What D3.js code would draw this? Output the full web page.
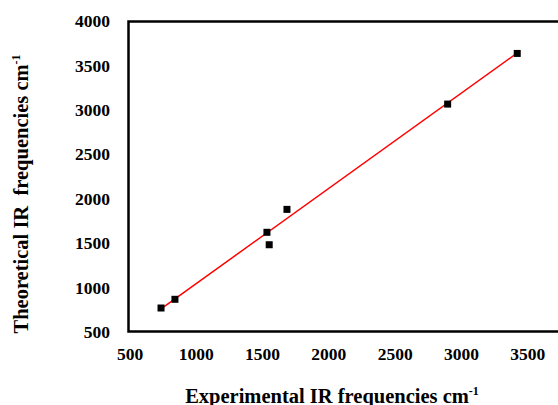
<!DOCTYPE html>
<html><head><meta charset="utf-8">
<script src="https://cdn.jsdelivr.net/npm/d3@7"></script>
<style>body{margin:0;background:#fff}svg{display:block}text{font-family:"Liberation Serif","Times New Roman",serif;font-weight:bold;fill:#000}</style>
</head><body>
<script>
const expFreq = [734, 839, 1533, 1550, 1684, 2896, 3421];
const theoFreq = [770, 868, 1622, 1482, 1880, 3065, 3635];
const fitX = [734, 3421];
const fitY = [760, 3640];
const xTicks = [500, 1000, 1500, 2000, 2500, 3000, 3500];
const yTicks = [500, 1000, 1500, 2000, 2500, 3000, 3500, 4000];

const W = 558, H = 405;
const svg = d3.select("body").append("svg").attr("width", W).attr("height", H);
const x = d3.scaleLinear().domain([500, 4000]).range([130, 594]);
const y = d3.scaleLinear().domain([500, 4000]).range([332, 21]);

// frame
svg.append("path").attr("d", `M${W+2},21.5 H128.5 V331.5 H${W+2}`).attr("fill","none").attr("stroke","#000").attr("stroke-width",2.5);

// y ticks
svg.append("g").selectAll("text").data(yTicks).join("text")
  .attr("x", 110).attr("y", d => y(d)).attr("dy","0.35em").attr("text-anchor","end")
  .attr("font-size", 17.5).text(d => d);
// x ticks
svg.append("g").selectAll("text").data(xTicks).join("text")
  .attr("x", d => x(d)).attr("y", 354).attr("dy","0.35em").attr("text-anchor","middle")
  .attr("font-size", 17.5).text(d => d);

// fit line
svg.append("line").attr("x1", x(fitX[0])).attr("y1", y(fitY[0])).attr("x2", x(fitX[1])).attr("y2", y(fitY[1]))
  .attr("stroke", "#ff0000").attr("stroke-width", 1.5);

// points
const s = 7;
svg.append("g").selectAll("rect").data(expFreq.map((d,i)=>[d, theoFreq[i]])).join("rect")
  .attr("x", d => x(d[0]) - s/2).attr("y", d => y(d[1]) - s/2).attr("width", s).attr("height", s).attr("fill","#000");

// axis titles
const xt = svg.append("text").attr("x", 332).attr("y", 403).attr("text-anchor","middle").attr("font-size", 20.5);
xt.append("tspan").text("Experimental IR frequencies cm");
xt.append("tspan").attr("font-size", 12).attr("dy", -8).text("-1");

const yt = svg.append("text").attr("transform","translate(28,194) rotate(-90)").attr("text-anchor","middle").attr("font-size", 20.5).style("white-space","pre");
yt.append("tspan").text("Theoretical IR  frequencies cm");
yt.append("tspan").attr("font-size", 12).attr("dy", -8).text("-1");
</script>
</body></html>
